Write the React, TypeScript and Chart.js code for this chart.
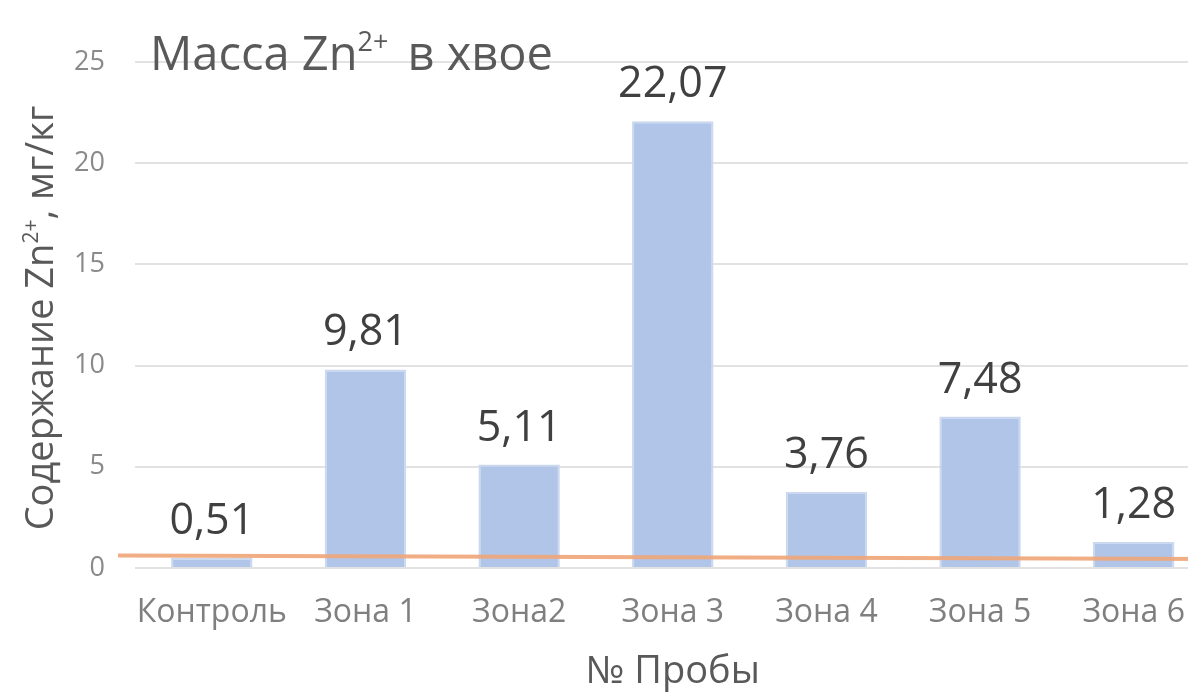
import { useEffect, useRef } from "react";
import { Chart, registerables } from "chart.js";

Chart.register(...registerables);

// Zn²⁺ content in pine needles, mg/kg
const categories = ["Контроль", "Зона 1", "Зона2", "Зона 3", "Зона 4", "Зона 5", "Зона 6"];
const zincValues = [0.51, 9.81, 5.11, 22.07, 3.76, 7.48, 1.28];
const yTicks = [0, 5, 10, 15, 20, 25];
// Reference line at the control level (left end, right end)
const controlLine = [0.62, 0.44];

const FONT = "'Open Sans', 'Noto Sans', sans-serif";
const W = 1211;
const H = 695;

const formatValue = (v: number) => v.toFixed(2).replace(".", ",");

// Draws text with superscript parts: [text, isSup, extra gap after]
function drawRich(
  ctx: CanvasRenderingContext2D,
  parts: [string, boolean, number][],
  x: number,
  y: number,
  size: number,
  supSize: number,
  supRise: number,
  align: "left" | "center"
) {
  const widths = parts.map(([t, sup, gap]) => {
    ctx.font = `${sup ? supSize : size}px ${FONT}`;
    return ctx.measureText(t).width + gap;
  });
  const total = widths.reduce((a, b) => a + b, 0);
  let cx = align === "center" ? x - total / 2 : x;
  ctx.textAlign = "left";
  ctx.textBaseline = "alphabetic";
  parts.forEach(([t, sup], i) => {
    ctx.font = `${sup ? supSize : size}px ${FONT}`;
    ctx.fillText(t, cx, sup ? y - supRise : y);
    cx += widths[i];
  });
}

const overlayPlugin = {
  id: "overlay",
  afterDatasetsDraw(chart: any) {
    const ctx: CanvasRenderingContext2D = chart.ctx;
    const y = chart.scales.y;
    const area = chart.chartArea;

    // control level line
    ctx.save();
    ctx.strokeStyle = "rgba(240,165,120,0.9)";
    ctx.lineWidth = 4;
    ctx.beginPath();
    ctx.moveTo(area.left - 17, y.getPixelForValue(controlLine[0]));
    ctx.lineTo(chart.width, y.getPixelForValue(controlLine[1]));
    ctx.stroke();
    ctx.restore();

    // value labels above bars
    const meta = chart.getDatasetMeta(0);
    ctx.save();
    ctx.fillStyle = "#404040";
    ctx.font = `43px ${FONT}`;
    ctx.textAlign = "center";
    ctx.textBaseline = "alphabetic";
    meta.data.forEach((bar: any, i: number) => {
      ctx.fillText(formatValue(zincValues[i]), bar.x, bar.y - 24);
    });
    ctx.restore();
  },
  afterDraw(chart: any) {
    const ctx: CanvasRenderingContext2D = chart.ctx;
    const area = chart.chartArea;
    ctx.save();
    ctx.fillStyle = "#595959";
    // chart title
    drawRich(
      ctx,
      [["Масса Zn", false, 0], ["2+", true, 7], [" в хвое", false, 0]],
      150, 70, 47, 27, 19, "left"
    );
    // x axis title
    drawRich(ctx, [["№ Пробы", false, 0]], (area.left + area.right) / 2, 683, 38, 20, 14, "center");
    // y axis title
    ctx.translate(53, (area.top + area.bottom) / 2 + 3);
    ctx.rotate(-Math.PI / 2);
    drawRich(
      ctx,
      [["Содержание Zn", false, 0], ["2+", true, 0], [", мг/кг", false, 0]],
      0, 0, 38, 21, 15, "center"
    );
    ctx.restore();
  },
};

export default function App() {
  const canvasRef = useRef<HTMLCanvasElement>(null);

  useEffect(() => {
    const canvas = canvasRef.current;
    if (!canvas) return;
    const chart = new Chart(canvas, {
      type: "bar",
      data: {
        labels: categories,
        datasets: [
          {
            data: zincValues,
            backgroundColor: "#b1c5e8",
            borderColor: "#cbd9f0",
            borderWidth: 2,
            barPercentage: 0.53,
            categoryPercentage: 1,
          },
        ],
      },
      options: {
        responsive: false,
        animation: false,
        devicePixelRatio: 1,
        layout: { padding: { top: 62, left: 0, right: 0, bottom: 0 } },
        plugins: {
          legend: { display: false },
          tooltip: { enabled: false },
          title: { display: false },
        },
        scales: {
          x: {
            grid: { display: false, drawTicks: false },
            border: { display: false },
            ticks: {
              color: "#7f7f7f",
              font: { family: FONT, size: 32 },
              padding: 26,
              maxRotation: 0,
              autoSkip: false,
            },
            afterFit(scale: any) {
              scale.height = H - 568;
            },
          },
          y: {
            min: 0,
            max: 25,
            grid: { color: "#e2e2e2", lineWidth: 2, drawTicks: false },
            border: { display: false },
            ticks: {
              color: "#8a8a8a",
              font: { family: FONT, size: 27 },
              padding: 30,
            },
            afterBuildTicks(scale: any) {
              scale.ticks = yTicks.map((v) => ({ value: v }));
            },
            afterFit(scale: any) {
              scale.width = 135;
            },
          },
        },
      },
      plugins: [overlayPlugin],
    });
    return () => chart.destroy();
  }, []);

  return (
    <div
      style={{
        position: "absolute",
        left: 0,
        top: 0,
        width: 1188,
        height: H,
        overflow: "hidden",
        background: "#ffffff",
      }}
    >
      <canvas ref={canvasRef} width={W} height={H} style={{ display: "block" }} />
    </div>
  );
}
